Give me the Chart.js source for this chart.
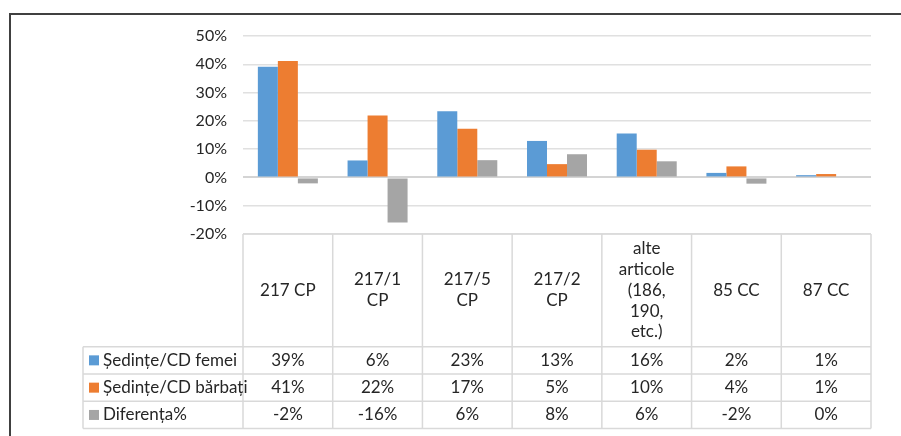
<!DOCTYPE html>
<html>
<head>
<meta charset="utf-8">
<script src="https://cdn.jsdelivr.net/npm/chart.js@4"></script>
<style>
  html, body { margin: 0; padding: 0; background: #fff; }
  #c { display: block; }
</style>
</head>
<body>
<canvas id="c" width="901" height="436"></canvas>
<script>
// ---- data ----
const categories = ['217 CP', ['217/1', 'CP'], ['217/5', 'CP'], ['217/2', 'CP'], ['alte', 'articole', '(186,', '190,', 'etc.)'], '85 CC', '87 CC'];
const seriesNames = ['Ședințe/CD femei', 'Ședințe/CD bărbați', 'Diferența%'];
const femei   = [39.1, 6.0, 23.4, 12.9, 15.5, 1.6, 0.8];
const barbati = [41.2, 21.9, 17.2, 4.7, 9.8, 3.9, 1.2];
const diferenta = [-2.1, -15.9, 6.1, 8.2, 5.7, -2.2, 0];
const yTicks = [-20, -10, 0, 10, 20, 30, 40, 50];

const colors = ['#5B9BD5', '#ED7D31', '#A5A5A5'];
const FONT = 'Lato, "Noto Sans", sans-serif';
const FSIZE = 17;
const TXT = '#262626';

const seriesValues = [femei, barbati, diferenta];

const tablePlugin = {
  id: 'dataTable',
  beforeDraw(chart) {
    const ctx = chart.ctx;
    ctx.save();
    ctx.strokeStyle = '#404040';
    ctx.lineWidth = 2;
    ctx.beginPath();
    ctx.moveTo(10, 437);
    ctx.lineTo(10, 14);
    ctx.lineTo(902, 14);
    ctx.stroke();
    ctx.restore();
  },
  afterDraw(chart) {
    const { ctx, chartArea: a } = chart;
    const n = categories.length;
    const cw = (a.right - a.left) / n;
    const top = a.bottom;
    const headH = 112.7, rowH = 27.3, legL = 83;
    const bodyTop = top + headH;
    const bottom = bodyTop + rowH * seriesValues.length;
    ctx.save();
    ctx.strokeStyle = '#d9d9d9';
    ctx.lineWidth = 1.5;
    ctx.beginPath();
    ctx.moveTo(a.left, top); ctx.lineTo(a.right, top);
    for (let r = 0; r <= seriesValues.length; r++) {
      const y = bodyTop + r * rowH;
      ctx.moveTo(legL, y); ctx.lineTo(a.right, y);
    }
    for (let i = 0; i <= n; i++) {
      const x = a.left + i * cw;
      ctx.moveTo(x, top); ctx.lineTo(x, bottom);
    }
    ctx.moveTo(legL, bodyTop); ctx.lineTo(legL, bottom);
    ctx.stroke();

    ctx.fillStyle = TXT;
    ctx.font = FSIZE + 'px ' + FONT;
    ctx.textAlign = 'center';
    ctx.textBaseline = 'middle';
    const lh = 20.7;
    categories.forEach((c, i) => {
      const lines = Array.isArray(c) ? c : [c];
      const cx = chart.scales.x.getPixelForValue(i);
      const cy = top + headH / 2;
      lines.forEach((l, k) => {
        ctx.fillText(l, cx, cy + (k - (lines.length - 1) / 2) * lh);
      });
    });
    seriesValues.forEach((vals, r) => {
      const cy = bodyTop + r * rowH + rowH / 2;
      vals.forEach((v, i) => {
        const cx = chart.scales.x.getPixelForValue(i);
        ctx.fillText(Math.round(v) + '%', cx, cy);
      });
      ctx.fillStyle = colors[r];
      ctx.fillRect(89, cy - 5, 10, 10);
      ctx.fillStyle = TXT;
      ctx.textAlign = 'left';
      ctx.fillText(seriesNames[r], 103, cy);
      ctx.textAlign = 'center';
    });
    ctx.restore();
  }
};

new Chart(document.getElementById('c'), {
  type: 'bar',
  data: {
    labels: categories,
    datasets: seriesValues.map((vals, i) => ({
      label: seriesNames[i],
      data: vals,
      backgroundColor: colors[i],
      borderWidth: 0,
      categoryPercentage: 0.669,
      barPercentage: 1.0
    }))
  },
  options: {
    responsive: false,
    devicePixelRatio: 1,
    animation: false,
    layout: { padding: { top: 36, right: 30, bottom: 202, left: 0 } },
    plugins: { legend: { display: false }, tooltip: { enabled: false } },
    scales: {
      x: { display: false },
      y: {
        min: -20, max: 50,
        afterFit(scale) { scale.width = 243; },
        afterBuildTicks(scale) { scale.ticks = yTicks.map(v => ({ value: v })); },
        border: { display: false },
        grid: {
          drawTicks: false,
          color: ctx => ctx.tick && ctx.tick.value === 0 ? '#d4d4d4' : '#e0e0e0',
          lineWidth: ctx => ctx.tick && ctx.tick.value === 0 ? 2 : 1.5
        },
        ticks: {
          padding: 16,
          color: TXT,
          font: { family: FONT, size: FSIZE - 1 },
          callback: v => v + '%'
        }
      }
    }
  },
  plugins: [tablePlugin]
});
</script>
</body>
</html>
